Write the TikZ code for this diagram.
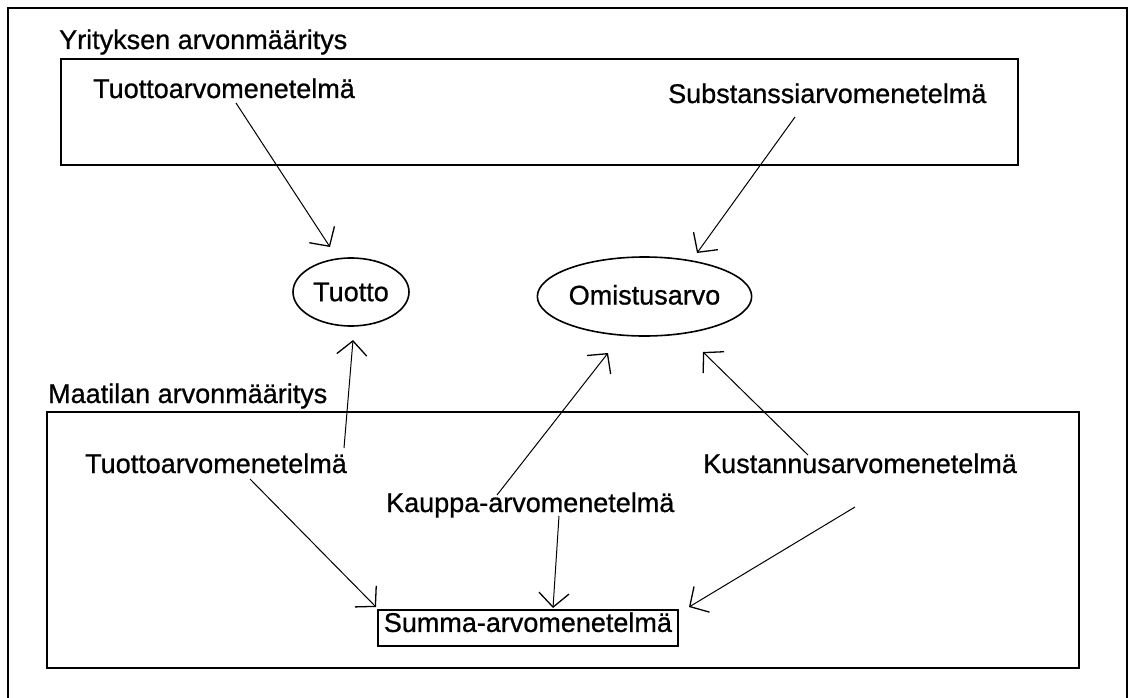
\documentclass[tikz,border=0pt]{standalone}
\usepackage{fontspec}
\setmainfont{Liberation Sans}[FakeBold=0.8]
\usetikzlibrary{arrows.meta,shapes.geometric}
\begin{document}
\begin{tikzpicture}[x=1pt,y=-1pt,
  every node/.style={font=\fontsize{27}{32}\selectfont},
  frame/.style={draw=black,line width=1.8pt},
  lbl/.style={anchor=base west,inner sep=0pt},
  valuenode/.style={draw=black,ellipse,line width=1.6pt,inner sep=0pt},
  methodbox/.style={draw=black,rectangle,line width=1.8pt,inner sep=0pt},
  conn/.style={draw=black,line width=1pt,
    -{Straight Barb[length=14pt,width=30pt,line width=1.3pt]}}
]
\useasboundingbox (0,0) rectangle (1129,698);

% page frame (open at the bottom)
\draw[frame] (8,698) -- (8,8) -- (1127,8) -- (1127,698);

% group boxes
\draw[frame] (61,59) rectangle (1018,165);
\draw[frame] (47,412) rectangle (1079,668);

% group titles
\node[lbl] (ytitle) at (59,49) {Yrityksen arvonmääritys};
\node[lbl] (mtitle) at (48,403) {Maatilan arvonmääritys};

% methods
\node[lbl] (ytuotto) at (93,98) {Tuottoarvomenetelmä};
\node[lbl] (subst) at (668,103) {Substanssiarvomenetelmä};
\node[lbl] (mtuotto) at (85,473) {Tuottoarvomenetelmä};
\node[lbl] (kust) at (703,473) {Kustannusarvomenetelmä};
\node[lbl] (kauppa) at (386,512) {Kauppa-arvomenetelmä};
\node[methodbox,anchor=north west,minimum width=300pt,
      text height=22pt,text depth=14pt] (summa) at (377,609) {Summa-arvomenetelmä};

% values
\node[valuenode,minimum width=116pt,minimum height=68pt] (tuotto) at (351,292) {Tuotto};
\node[valuenode,minimum width=197pt,minimum height=79pt,
      text height=22pt,text depth=6pt] (omistus) at (644.5,296.5) {Omistusarvo};

% connector end points
\coordinate (a1s) at (236,103);  \coordinate (a1e) at (330,247);
\coordinate (a2s) at (795,117);  \coordinate (a2e) at (697,253);
\coordinate (a3s) at (344,448);  \coordinate (a3e) at (353,340);
\coordinate (a4s) at (497,495);  \coordinate (a4e) at (608,353);
\coordinate (a5s) at (808,455);  \coordinate (a5e) at (703,352);
\coordinate (a6s) at (250,479);  \coordinate (a6e) at (376,607);
\coordinate (a7s) at (559,516);  \coordinate (a7e) at (553,608);
\coordinate (a8s) at (855,507);  \coordinate (a8e) at (689,607);

% connectors
\draw[conn] (a1s) -- (a1e);
\draw[conn] (a2s) -- (a2e);
\draw[conn] (a3s) -- (a3e);
\draw[conn] (a4s) -- (a4e);
\draw[conn] (a5s) -- (a5e);
\draw[conn] (a6s) -- (a6e);
\draw[conn] (a7s) -- (a7e);
\draw[conn] (a8s) -- (a8e);
\end{tikzpicture}
\end{document}
